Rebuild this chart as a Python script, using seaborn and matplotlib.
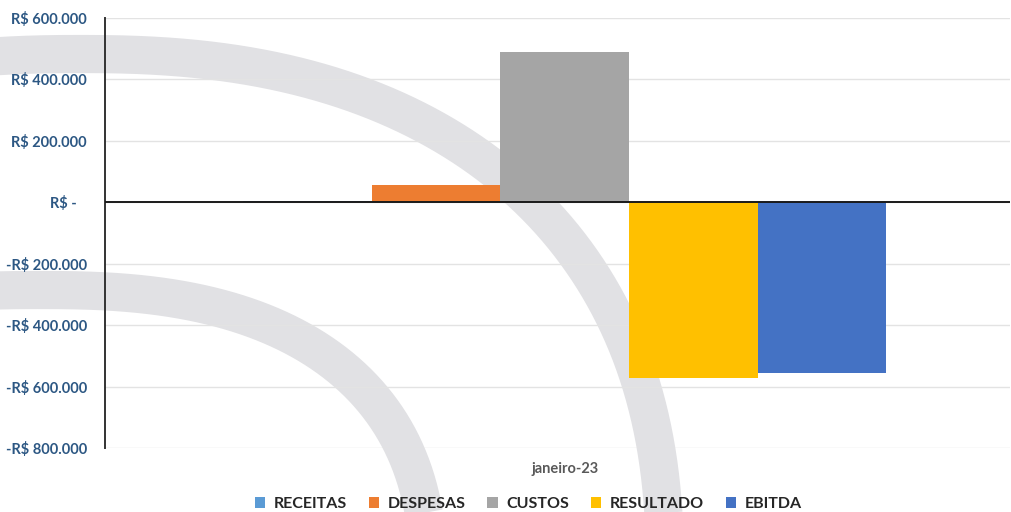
import matplotlib
matplotlib.use("Agg")
import matplotlib.pyplot as plt
from matplotlib.patches import Patch
from matplotlib.ticker import FuncFormatter
import seaborn as sns
import pandas as pd
import numpy as np

# ---- data ----
meses = ["janeiro-23"]
series = ["RECEITAS", "DESPESAS", "CUSTOS", "RESULTADO", "EBITDA"]
valores = [4000, 56000, 488000, -573000, -555000]
cores = ["#5B9BD5", "#ED7D31", "#A5A5A5", "#FFC000", "#4472C4"]
yticks = [600000, 400000, 200000, 0, -200000, -400000, -600000, -800000]

df = pd.DataFrame({"mes": meses * len(series), "serie": series, "valor": valores})

sns.set_theme(style="white")
plt.rcParams["font.family"] = ["Lato", "DejaVu Sans"]

fig = plt.figure(figsize=(10.12, 5.12), dpi=100)

# decorative background arcs (watermark), drawn in figure pixel space
bg = fig.add_axes([0, 0, 1, 1], zorder=0)
bg.set_xlim(0, 1012)
bg.set_ylim(512, 0)
bg.axis("off")
t = np.linspace(0, np.pi, 600)
for cx, cy, a, b, n in ((80, 574, 585, 520, 2.35), (40, 590, 389, 300, 2.5)):
    c, s = np.cos(t), np.sin(t)
    xs = cx + a * np.sign(c) * np.abs(c) ** (2 / n)
    ys = cy - b * np.abs(s) ** (2 / n)
    bg.plot(xs, ys, color="#E1E1E4", linewidth=27.5, solid_capstyle="butt")

ax = fig.add_axes([105 / 1012, 64 / 512, 905 / 1012, 430 / 512], zorder=1)
ax.patch.set_alpha(0)

sns.barplot(data=df, x="mes", y="valor", hue="serie", hue_order=series,
            palette=cores, saturation=1, width=0.71, ax=ax, legend=False,
            linewidth=0, edgecolor="none")

ax.set_ylim(-800000, 600000)
ax.set_xlim(-0.508, 0.492)
ax.set_yticks(yticks)


def fmt(v, pos):
    if v == 0:
        return "R$ -   "
    s = f"{abs(v):,.0f}".replace(",", ".")
    return ("-R$ " if v < 0 else "R$ ") + s


ax.yaxis.set_major_formatter(FuncFormatter(fmt))
ax.grid(axis="y", color="#E3E3E3", linewidth=1)
ax.set_axisbelow(True)
ax.axhline(0, color="#1a1a1a", linewidth=1.4, zorder=3)

for s in ["top", "right", "bottom"]:
    ax.spines[s].set_visible(False)
ax.spines["left"].set_color("#333333")
ax.spines["left"].set_linewidth(1.4)

ax.tick_params(axis="y", length=0, pad=13, labelsize=10.5, labelcolor="#2C5783")
ax.tick_params(axis="x", length=0, pad=10, labelsize=10.5, labelcolor="#595959")
for lab in ax.get_yticklabels():
    lab.set_fontweight("bold")
for lab in ax.get_xticklabels():
    lab.set_fontweight("bold")
ax.set_xlabel("")
ax.set_ylabel("")

handles = [Patch(facecolor=c, edgecolor="none") for c in cores]
leg = fig.legend(handles, series, loc="lower center", bbox_to_anchor=(0.522, -0.026),
                 ncol=5, frameon=False, handlelength=0.65, handleheight=0.65,
                 handletextpad=0.55, columnspacing=1.35,
                 prop={"weight": "bold", "size": 11.5})
for t_ in leg.get_texts():
    t_.set_color("#262626")

fig.savefig("out.png", dpi=100)
